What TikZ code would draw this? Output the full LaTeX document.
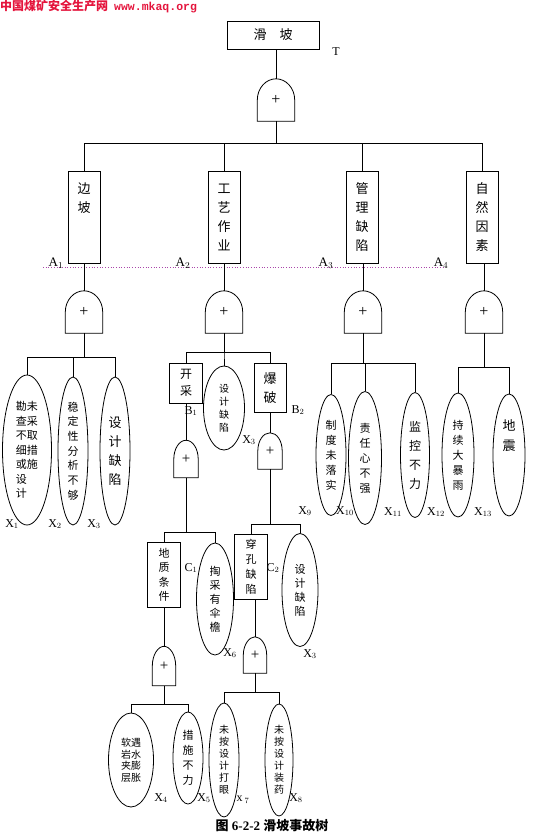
\documentclass[tikz,border=0pt]{standalone}
\usepackage{fontspec}
\setmainfont{Liberation Serif}
\newfontfamily\cjk{Noto Sans CJK SC}
\newfontfamily\webmono{Liberation Mono}
\usepackage{tikz}
\usetikzlibrary{shapes.geometric}
\definecolor{sitered}{RGB}{228,20,60}
\definecolor{levelpink}{RGB}{170,70,170}

\begin{document}
\begin{tikzpicture}[x=1pt, y=-1pt,
    topevent/.style={rectangle, draw=black, line width=0.8pt, inner sep=0pt, minimum width=92pt, minimum height=28pt, font=\cjk\fontsize{13}{13}\selectfont},
    event/.style={rectangle, draw=black, line width=0.8pt, align=center, inner sep=0pt, minimum width=32pt, minimum height=92pt, font=\cjk\fontsize{13}{19}\selectfont},
    subevent/.style={rectangle, draw=black, line width=0.8pt, align=center, inner sep=0pt, minimum width=33pt, font=\cjk\fontsize{11}{14.5}\selectfont},
    gate/.style={inner sep=0pt, minimum width=37pt, minimum height=42pt, font=\fontsize{16}{16}\selectfont},
    smallgate/.style={gate, minimum width=24pt, minimum height=37pt, font=\fontsize{15}{15}\selectfont},
    leaf/.style={ellipse, draw=black, line width=0.8pt, align=center, inner sep=0pt, font=\cjk\fontsize{11}{15}\selectfont},
    idlabel/.style={inner sep=0pt, font=\fontsize{12}{12}\selectfont},
    wire/.style={line width=0.8pt}
]
\useasboundingbox (0,0) rectangle (549,840);

% header and caption
\node[anchor=west, inner sep=0pt, text=sitered, font=\fontsize{12}{12}\selectfont] (site) at (0,7)
  {{\cjk\bfseries 中国煤矿安全生产网}\hspace{6pt}{\webmono\bfseries\fontsize{11.5}{12}\selectfont www.mkaq.org}};
\node[font=\fontsize{13}{13}\selectfont\bfseries] (caption) at (272,826) {{\cjk 图} 6-2-2 {\cjk 滑坡事故树}};

% level line
\coordinate (lvlwest) at (43,267);
\coordinate (lvleast) at (443,267);
\draw[levelpink, dotted, line width=0.7pt] (lvlwest) -- (lvleast);

% top event
\node[topevent] (top) at (273,35) {滑\hspace{1em}坡};
\node[idlabel] (lblT) at (336,52) {T};
\node[gate] (g0) at (276,100) {+};

% first level
\node[event] (A1) at (84,217) {边\\坡\\~\\~};
\node[event] (A2) at (224,217) {工\\艺\\作\\业};
\node[event] (A3) at (362,217) {管\\理\\缺\\陷};
\node[event] (A4) at (482,217) {自\\然\\因\\素};
\node[idlabel, font=\fontsize{13}{13}\selectfont] (lblA1) at (56,263) {A$_1$};
\node[idlabel, font=\fontsize{13}{13}\selectfont] (lblA2) at (183,263) {A$_2$};
\node[idlabel, font=\fontsize{13}{13}\selectfont] (lblA3) at (326,263) {A$_3$};
\node[idlabel, font=\fontsize{13}{13}\selectfont] (lblA4) at (441,263) {A$_4$};

\node[gate] (g1) at (84,312) {+};
\node[gate] (g2) at (224,312) {+};
\node[gate] (g3) at (363,312) {+};
\node[gate] (g4) at (484,312) {+};

% slope
\node[leaf, align=left, minimum width=49pt, minimum height=150pt, font=\cjk\fontsize{11}{14.5}\selectfont] (x1) at (27,450) {勘未\\查采\\不取\\细措\\或施\\设\\计};
\node[leaf, minimum width=30pt, minimum height=148pt, font=\cjk\fontsize{11}{14.7}\selectfont] (x2) at (73,451) {稳\\定\\性\\分\\析\\不\\够};
\node[leaf, minimum width=30pt, minimum height=148pt, font=\cjk\fontsize{13}{19}\selectfont] (x3) at (115,451) {设\\计\\缺\\陷};
\node[idlabel] (lblx1) at (12,524) {X$_1$};
\node[idlabel] (lblx2) at (55,524) {X$_2$};
\node[idlabel] (lblx3) at (94,524) {X$_3$};

% process
\node[subevent, minimum height=40pt, font=\cjk\fontsize{12}{17}\selectfont] (B1) at (186,383) {开\\采};
\node[leaf, minimum width=41pt, minimum height=84pt, font=\cjk\fontsize{10}{13}\selectfont] (x3b) at (224,408) {设\\计\\缺\\陷};
\node[subevent, minimum width=32pt, minimum height=49pt, font=\cjk\fontsize{13}{19}\selectfont] (B2) at (270,388) {爆\\破};
\node[idlabel] (lblB1) at (191,411) {B$_1$};
\node[idlabel] (lblB2) at (298,410) {B$_2$};
\node[idlabel] (lblx3b) at (249,440) {X$_3$};

\node[smallgate] (g5) at (186,459) {+};
\node[smallgate, minimum height=36pt] (g6) at (270,451) {+};

\node[subevent, minimum height=65pt] (C1) at (164,575) {地\\质\\条\\件};
\node[leaf, minimum width=37pt, minimum height=112pt, font=\cjk\fontsize{11}{14}\selectfont] (x6) at (215,599) {掏\\采\\有\\伞\\檐};
\node[subevent, minimum height=65pt, font=\cjk\fontsize{11}{15}\selectfont] (C2) at (251,567) {穿\\孔\\缺\\陷};
\node[leaf, minimum width=36pt, minimum height=113pt, font=\cjk\fontsize{11}{14}\selectfont] (x3c) at (300,590) {设\\计\\缺\\陷};
\node[idlabel] (lblC1) at (191,568) {C$_1$};
\node[idlabel] (lblC2) at (273,568) {C$_2$};
\node[idlabel] (lblx6) at (230,653) {X$_6$};
\node[idlabel] (lblx3c) at (310,654) {X$_3$};

\node[smallgate, minimum width=23pt, minimum height=39pt] (g7) at (164,666) {+};
\node[smallgate, minimum width=23pt, minimum height=36pt] (g8) at (255,655) {+};

\node[leaf, minimum width=45pt, minimum height=94pt, font=\cjk\fontsize{10}{11.5}\selectfont] (x4) at (131,760) {软遇\\岩水\\夹膨\\层胀};
\node[leaf, minimum width=30pt, minimum height=92pt] (x5) at (188,758) {措\\施\\不\\力};
\node[leaf, minimum width=30pt, minimum height=114pt, font=\cjk\fontsize{10}{12}\selectfont] (x7) at (224,760) {未\\按\\设\\计\\打\\眼};
\node[leaf, minimum width=28pt, minimum height=112pt, font=\cjk\fontsize{10}{12}\selectfont] (x8) at (279,760) {未\\按\\设\\计\\装\\药};
\node[idlabel] (lblx4) at (161,798) {X$_4$};
\node[idlabel] (lblx5) at (204,798) {X$_5$};
\node[idlabel] (lblx7) at (243,800) {x\,$_7$};
\node[idlabel] (lblx8) at (296,798) {X$_8$};

% management and nature
\node[leaf, minimum width=30pt, minimum height=121pt] (x9) at (331,455) {制\\度\\未\\落\\实};
\node[leaf, minimum width=33pt, minimum height=133pt] (x10) at (365,458) {责\\任\\心\\不\\强};
\node[leaf, minimum width=29pt, minimum height=125pt, font=\cjk\fontsize{12}{19}\selectfont] (x11) at (415,455) {监\\控\\不\\力};
\node[leaf, minimum width=32pt, minimum height=124pt] (x12) at (458,455) {持\\续\\大\\暴\\雨};
\node[leaf, minimum width=32pt, minimum height=122pt, font=\cjk\fontsize{13}{20}\selectfont] (x13) at (509,455) {地\\震\\~\\~};
\node[idlabel] (lblx9) at (305,511) {X$_9$};
\node[idlabel] (lblx10) at (345,511) {X$_{10}$};
\node[idlabel] (lblx11) at (393,512) {X$_{11}$};
\node[idlabel] (lblx12) at (436,512) {X$_{12}$};
\node[idlabel] (lblx13) at (483,512) {X$_{13}$};

% gate outlines
\foreach \g/\dx/\dy in {g0/10/12, g1/10/12, g2/10/12, g3/10/12, g4/10/12, g5/7/10, g6/7/10, g7/6/11, g8/6/10}
  \draw[wire] (\g.south west) -- (\g.west) .. controls +(0,-\dy) and +(-\dx,0) .. (\g.north)
    .. controls +(\dx,0) and +(0,-\dy) .. (\g.east) -- (\g.south east) -- cycle;

% connectors
\draw[wire] (top.south -| g0.north) -- (g0.north);
\foreach \a in {A1,A2,A3,A4}
  \draw[wire] (g0.south) -- ++(0,22) -| (\a.north);
\draw[wire] (A1.south) -- (g1.north);
\draw[wire] (A2.south) -- (g2.north);
\draw[wire] (A3.south -| g3.north) -- (g3.north);
\draw[wire] (A4.south -| g4.north) -- (g4.north);

\foreach \c in {x1,x2,x3}
  \draw[wire] (g1.south) -- ++(0,24) -| (\c.north);
\foreach \c in {B1,x3b,B2}
  \draw[wire] (g2.south) -- ++(0,19) -| (\c.north);
\foreach \c in {x9,x10,x11}
  \draw[wire] (g3.south) -- ++(0,30) -| (\c.north);
\foreach \c in {x12,x13}
  \draw[wire] (g4.south) -- ++(0,34) -| (\c.north);

\draw[wire] (B1.south) -- (g5.north);
\draw[wire] (B2.south) -- (g6.north);
\foreach \c in {C1,x6}
  \draw[wire] (g5.south) -- ++(0,55) -| (\c.north);
\foreach \c in {C2,x3c}
  \draw[wire] (g6.south) -- ++(0,55) -| (\c.north);

\draw[wire] (C1.south) -- (g7.north);
\draw[wire] (C2.south -| g8.north) -- (g8.north);
\foreach \c in {x4,x5}
  \draw[wire] (g7.south) -- ++(0,19) -| (\c.north);
\foreach \c in {x7,x8}
  \draw[wire] (g8.south) -- ++(0,19) -| (\c.north);
\end{tikzpicture}
\end{document}
